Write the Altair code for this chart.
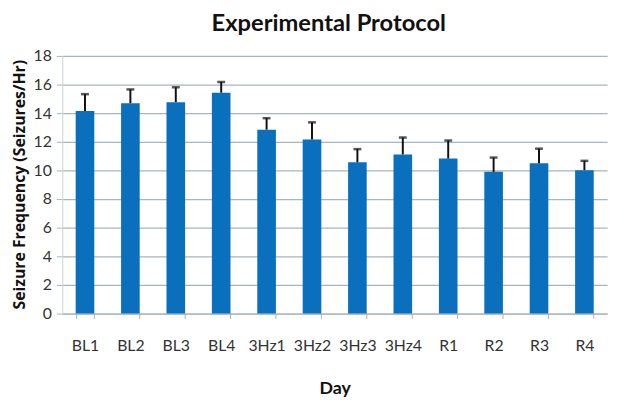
import altair as alt
import pandas as pd

days = ["BL1", "BL2", "BL3", "BL4", "3Hz1", "3Hz2", "3Hz3", "3Hz4", "R1", "R2", "R3", "R4"]
means = [14.15, 14.7, 14.77, 15.43, 12.85, 12.17, 10.57, 11.12, 10.83, 9.9, 10.5, 10.02]
uppers = [15.33, 15.66, 15.81, 16.18, 13.65, 13.36, 11.49, 12.3, 12.09, 10.9, 11.52, 10.67]
y_ticks = [0, 2, 4, 6, 8, 10, 12, 14, 16, 18]

df = pd.DataFrame({"Day": days, "mean": means, "upper": uppers})

FONT = "Lato"
x = alt.X("Day:N", sort=days,
          scale=alt.Scale(paddingInner=0.59, paddingOuter=0.295),
          axis=alt.Axis(title="Day", labelAngle=0, labelFontSize=16, labelColor="#333333",
                        labelFont=FONT, labelPadding=19, tickSize=5, tickColor="#b0b0b0",
                        tickBand="extent", domainColor="#a9b4bc",
                        titleFont=FONT, titleFontSize=18, titleFontWeight="bold",
                        titleColor="#111111", titlePadding=27))

yaxis = alt.Axis(title="Seizure Frequency (Seizures/Hr)", values=y_ticks, tickCount=10,
                 labelOverlap=False, labelFontSize=16, labelColor="#333333", labelFont=FONT,
                 labelPadding=5, tickSize=6, tickColor="#a9b4bc",
                 domainColor="#c8d0d6", gridColor="#a9b4bc", gridWidth=1.2,
                 titleFont="Open Sans", titleFontSize=16, titleFontWeight="bold",
                 titleColor="#111111", titleX=-43, titleY=130, titleAngle=270,
                 titleAlign="center", titleBaseline="middle")

yscale = alt.Scale(domain=[0, 18])

bars = alt.Chart(df).mark_bar(color="#0a70bd").encode(
    x=x, y=alt.Y("mean:Q", scale=yscale, axis=yaxis))
rules = alt.Chart(df).mark_rule(color="#111111", strokeWidth=2).encode(
    x=alt.X("Day:N", sort=days), y=alt.Y("mean:Q", scale=yscale, axis=yaxis), y2="upper:Q")
caps = alt.Chart(df).mark_tick(color="#111111", thickness=2.5, size=8, orient="horizontal").encode(
    x=alt.X("Day:N", sort=days), y=alt.Y("upper:Q", scale=yscale, axis=yaxis))

chart = alt.layer(bars, rules, caps).properties(
    width=552, height=261,
    autosize=alt.AutoSizeParams(type="none"),
    padding={"left": 55, "top": 46, "right": 9, "bottom": 84},
    title=alt.TitleParams("Experimental Protocol", font=FONT, fontSize=24, fontWeight="bold",
                          color="#111111", anchor="middle", dx=-6, offset=12),
).configure_view(stroke=None)

chart.save("out.html", embed_options={"renderer": "svg", "actions": False})
